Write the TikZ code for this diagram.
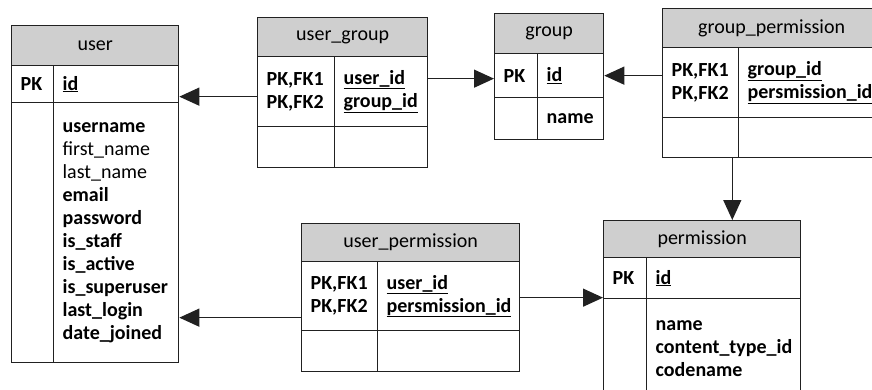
\documentclass[tikz,border=0pt]{standalone}
\usepackage{fontspec}
\setmainfont{Carlito}
\usetikzlibrary{arrows.meta}
\definecolor{headgray}{rgb}{0.81,0.81,0.81}
\definecolor{edgeblack}{rgb}{0.13,0.13,0.13}
\tikzset{
  tblhead/.style={
    draw=edgeblack,
    fill=headgray,
    line width=1.3pt,
    anchor=north west,
    align=center,
    inner xsep=9pt,
    inner ysep=0pt,
    font=\fontsize{20}{23}\selectfont
  },
  tblcell/.style={
    draw=edgeblack,
    fill=white,
    line width=1.3pt,
    anchor=north west,
    align=left,
    inner xsep=9pt,
    inner ysep=0pt,
    font=\fontsize{20}{23}\selectfont\bfseries
  },
  fk/.style={
    -{Triangle[length=20pt,width=18pt]},
    line width=1.3pt,
    edgeblack
  }
}

\begin{document}
\begin{tikzpicture}[x=1pt,y=-1pt]
\useasboundingbox (0,0) rectangle (872,390);
% user
\node[tblhead, text width=149pt, minimum height=40pt] (u-head) at (11,25) {user};
\node[tblcell, text width=24pt, minimum height=37pt] (u-pk) at (11,65) {PK};
\node[tblcell, text width=107pt, minimum height=37pt] (u-id) at (53,65) {\underline{id}};
\node[tblcell, text width=24pt, minimum height=260pt] (u-blank) at (11,102) {};
\node[tblcell, text width=107pt, minimum height=260pt] (u-fld) at (53,102) {username\\{\mdseries first\_name}\\{\mdseries last\_name}\\email\\password\\is\_staff\\is\_active\\is\_superuser\\last\_login\\date\_joined};
% user_group
\node[tblhead, text width=152pt, minimum height=39pt] (ug-head) at (257,17) {user\_group};
\node[tblcell, text width=59pt, minimum height=70pt] (ug-key) at (257,56) {PK,FK1\\PK,FK2};
\node[tblcell, text width=75pt, minimum height=70pt] (ug-fld) at (334,56) {\underline{user\_id}\\\underline{group\_id}};
\node[tblcell, text width=59pt, minimum height=41pt] (ug-key2) at (257,126) {};
\node[tblcell, text width=75pt, minimum height=41pt] (ug-fld2) at (334,126) {};
% group
\node[tblhead, text width=91pt, minimum height=40pt] (g-head) at (494,13) {group};
\node[tblcell, text width=25pt, minimum height=44pt] (g-pk) at (494,53) {PK};
\node[tblcell, text width=48pt, minimum height=44pt] (g-id) at (537,53) {\underline{id}};
\node[tblcell, text width=25pt, minimum height=42pt] (g-blank) at (494,97) {};
\node[tblcell, text width=48pt, minimum height=42pt] (g-fld) at (537,97) {name};
% group_permission
\node[tblhead, text width=200pt, minimum height=39pt] (gp-head) at (662,8) {group\_permission};
\node[tblcell, text width=58pt, minimum height=70pt] (gp-key) at (662,47) {PK,FK1\\PK,FK2};
\node[tblcell, text width=124pt, minimum height=70pt] (gp-fld) at (738,47) {\underline{group\_id}\\\underline{persmission\_id}};
\node[tblcell, text width=58pt, minimum height=40pt] (gp-key2) at (662,117) {};
\node[tblcell, text width=124pt, minimum height=40pt] (gp-fld2) at (738,117) {};
% user_permission
\node[tblhead, text width=200pt, minimum height=38pt] (up-head) at (301,223) {user\_permission};
\node[tblcell, text width=58pt, minimum height=69pt] (up-key) at (301,261) {PK,FK1\\PK,FK2};
\node[tblcell, text width=124pt, minimum height=69pt] (up-fld) at (377,261) {\underline{user\_id}\\\underline{persmission\_id}};
\node[tblcell, text width=58pt, minimum height=41pt] (up-key2) at (301,330) {};
\node[tblcell, text width=124pt, minimum height=41pt] (up-fld2) at (377,330) {};
% permission
\node[tblhead, text width=179pt, minimum height=37pt] (p-head) at (603,220) {permission};
\node[tblcell, text width=25pt, minimum height=41pt] (p-pk) at (603,257) {PK};
\node[tblcell, text width=136pt, minimum height=41pt] (p-id) at (646,257) {\underline{id}};
\node[tblcell, text width=25pt, minimum height=100pt] (p-blank) at (603,298) {};
\node[tblcell, text width=136pt, minimum height=100pt] (p-fld) at (646,298) {name\\content\_type\_id\\codename};
% relations
\draw[fk] ([yshift=-5pt]ug-key.west) -- ([yshift=-5pt]ug-key.west -| u-id.east);
\draw[fk] ([yshift=13pt]ug-fld.east) -- ([yshift=13pt]ug-fld.east -| g-pk.west);
\draw[fk] ([yshift=7pt]gp-key.west) -- ([yshift=7pt]gp-key.west -| g-id.east);
\draw[fk] ([xshift=-7pt]gp-key2.south east) -- ([xshift=-7pt]gp-key2.south east |- p-head.north);
\draw[fk] ([yshift=-21.5pt]up-key.west) -- ([yshift=-21.5pt]up-key.west -| u-fld.east);
\draw[fk] ([yshift=-1.5pt]up-fld.east) -- ([yshift=-1.5pt]up-fld.east -| p-pk.west);
\end{tikzpicture}
\end{document}
